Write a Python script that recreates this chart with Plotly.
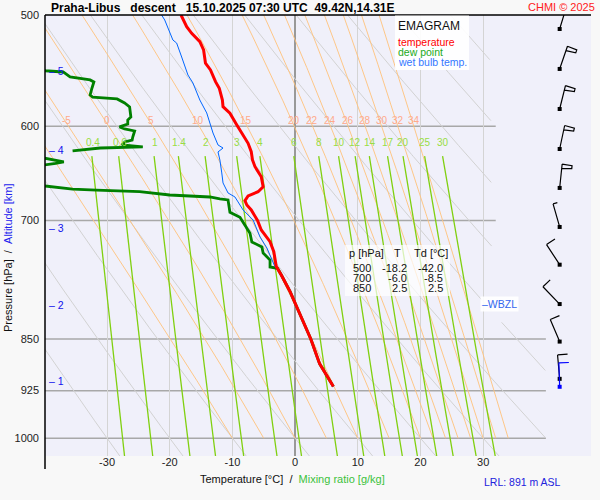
import numpy as np
import plotly.graph_objects as go

# --- descent profile ------------------------------------------------------
temp_p = [500, 509.7, 515.2, 522.3, 529.5, 541.1, 547.1, 557.7, 563.7, 574.7,
          581.0, 587.3, 598.7, 608.6, 616.9, 625.4, 634.0, 641.0, 651.6, 662.4,
          667.8, 672.5, 677.7, 682.5, 688.1, 700.0, 711.0, 724.7, 736.7, 755.0,
          765.4, 786.6, 801.7, 815.0, 837.4, 850.0, 885.0, 918.7]
temp_c = [-18.2, -17.3, -16.5, -15.2, -14.6, -14.3, -13.5, -12.7, -12.1, -11.6,
          -11.5, -10.4, -9.3, -8.3, -7.5, -7.0, -6.8, -6.4, -5.4, -5.1,
          -5.9, -7.5, -8.0, -7.7, -7.0, -6.0, -5.4, -4.0, -3.4, -3.0,
          -2.2, -0.8, 0.0, 0.7, 1.8, 2.5, 3.9, 6.1]

# dew point (None = below the left edge of the diagram)
dew_p = [500, 530, 540, 547.8, 548.9, 553.4, 556.1, 558.0, 563.5, 570.0,
         571.9, 573.7, 577.5, 581.3, 590.9, 593.8, 597.7, 600.6, 602.6, 604.6,
         610.6, 613.6, 615.6, 618.6, 620.6, 621.7, 624.7, None, 631.5, 635.9,
         637.6, 639.4, None, 661.6, 664.9, 666.0, 667.8, 671.4, 673.6, 675.8,
         676.9, 690.7, 696.4, 705.5, 714.9, 725.1, 731.1, 738.3, 746.8, 755.4,
         757.1, 765.4, 786.6, 801.7, 815.0, 837.4, 850.0, 885.0, 918.7]
dew_c = [-42.0, -41.5, -41.0, -39.9, -37.0, -35.9, -32.7, -32.1, -32.4, -32.7,
         -32.3, -28.4, -27.2, -26.4, -26.2, -26.7, -26.7, -28.0, -27.2, -25.6,
         -25.9, -26.0, -27.2, -27.6, -24.3, -31.1, -35.5, None, -40.5, -36.9,
         -38.2, -40.3, None, -39.9, -35.5, -31.7, -24.8, -20.0, -13.6, -12.0,
         -10.7, -10.4, -8.8, -8.0, -7.2, -6.9, -5.3, -5.1, -4.0, -4.0,
         -2.8, -2.2, -0.8, 0.0, 0.7, 1.8, 2.5, 3.9, 6.1]

wet_p = [500, 504.1, 520.9, 523.5, 535.6, 544.4, 551.6, 558.9, 568.1, 574.7,
         587.0, 596.7, 606.6, 618.6, 621.7, 625.7, 634.0, 647.6, 658.3, 669.2,
         673.6, 679.1, 688.1, 699.5, 719.2, 732.3, 746.8, 755.4, 757.1, 765.4,
         786.6, 801.7, 815.0, 837.4, 850.0, 885.0, 918.7]
wet_c = [-21.3, -20.8, -19.5, -18.9, -18.1, -17.6, -17.1, -16.3, -15.7, -15.2,
         -14.1, -13.6, -13.1, -12.3, -11.5, -12.3, -12.0, -11.7, -11.5, -10.7,
         -9.6, -9.1, -8.3, -6.7, -5.6, -4.5, -3.7, -3.2, -2.9, -2.2,
         -0.8, 0.0, 0.7, 1.8, 2.5, 3.9, 6.1]

table_p = [500, 700, 850]
table_t = [-18.2, -6.0, 2.5]
table_td = [-42.0, -8.5, 2.5]

# winds every 0.5 km (dir in deg, speed in kt), plus the lowest level
wind_p = [511.6, 546.2, 583.2, 622.7, 663.7, 707.5, 752.6, 802.7, 853.6, 907.3]
wind_dir = [17, 19, 14, 12, 6, 344, 327, 316, 337, 355]
wind_kt = [50, 50, 50, 50, 50, 5, 10, 10, 10, 10]
sfc_p = 919.2
sfc_dir = 358
sfc_kt = 10

alt_km = [1, 2, 3, 4, 5]
alt_p = [910.9, 804.0, 708.7, 623.7, 548.0]
wbzl_p = 802

# --- diagram background ----------------------------------------------------
dry_theta = [-30, -20, -10, 0, 10, 20, 30, 40, 50, 60, 70, 80, 90]   # degC at 1000 hPa
moist_theta = [-10, -5, 0, 5, 10, 15, 20, 22, 24, 26, 28, 30, 32, 34]
moist_labels = [-5, 0, 5, 10, 15, 20, 22, 24, 26, 28, 30, 32, 34]
mix_ratio = [0.4, 0.6, 1, 1.4, 2, 3, 4, 6, 8, 10, 12, 14, 17, 20, 25, 30]
mix_text = ['0.4', '0.6', '1', '1.4', '2', '3', '4', '6', '8', '10', '12', '14',
            '17', '20', '25', '30']

x_ticks = [-30, -20, -10, 0, 10, 20, 30]
p_ticks = [500, 600, 700, 850, 925, 1000]

FONT = 'Liberation Sans, Arial, sans-serif'


def esat(tc):
    return 6.112 * np.exp(17.67 * tc / (tc + 243.5))


def mixing_line(w, p):
    e = w * p / (622.0 + w)
    ln = np.log(e / 6.112)
    return 243.5 * ln / (17.67 - ln)


def moist_adiabat(t0, p):
    Rd, cp, Lv, eps = 287.04, 1005.7, 2.501e6, 0.622

    def f(pp, T):
        e = esat(T - 273.15)
        rs = eps * e / (pp - e)
        return (Rd * T + Lv * rs) / (cp + Lv * Lv * rs * eps / (Rd * T * T)) / pp

    T = t0 + 273.15
    out = [T]
    for i in range(len(p) - 1):
        h = p[i + 1] - p[i]
        k1 = f(p[i], T)
        k2 = f(p[i] + h / 2, T + h / 2 * k1)
        k3 = f(p[i] + h / 2, T + h / 2 * k2)
        k4 = f(p[i + 1], T + h * k3)
        T = T + h / 6 * (k1 + 2 * k2 + 2 * k3 + k4)
        out.append(T)
    return np.array(out) - 273.15


def clip_right(t, p):
    t = np.array(t, dtype=float)
    t[(p < 825) & (t > 31.4)] = np.nan
    t[t > 40] = np.nan
    return t


def xpaper(px):
    return (px - 45) / 546.0


def ypaper(py):
    return (456.0 - py) / 441.0


fig = go.Figure()

p_full = np.linspace(495, 1035, 240)
for th in dry_theta:
    t = (th + 273.15) * (p_full / 1000.0) ** 0.2857 - 273.15
    fig.add_trace(go.Scatter(x=clip_right(t, p_full), y=p_full, mode='lines',
                             line=dict(color='#d2d2d2', width=1), hoverinfo='skip'))

p_moist = np.linspace(1000, 495, 203)
moist_pos = {}
for th in moist_theta:
    t = moist_adiabat(th, p_moist)
    moist_pos[th] = np.interp(594, p_moist[::-1], t[::-1])
    fig.add_trace(go.Scatter(x=clip_right(t, p_moist), y=p_moist, mode='lines',
                             line=dict(color='#ffc27a', width=0.9), hoverinfo='skip'))

p_mix = np.linspace(630, 1035, 80)
for w in mix_ratio:
    fig.add_trace(go.Scatter(x=mixing_line(w, p_mix), y=p_mix, mode='lines',
                             line=dict(color='#80d010', width=1.3), hoverinfo='skip'))

# isobars
for p in p_ticks[1:]:
    fig.add_shape(type='line', xref='x', yref='y', x0=-39.9, x1=32 if p < 825 else 40,
                  y0=p, y1=p, line=dict(color='#a8a8a8', width=1.5), layer='below')

# sounding
fig.add_trace(go.Scatter(x=dew_c, y=dew_p, mode='lines', connectgaps=False,
                         line=dict(color='#008000', width=2.8), hoverinfo='skip'))
fig.add_trace(go.Scatter(x=wet_c, y=wet_p, mode='lines',
                         line=dict(color='#0066ff', width=1), hoverinfo='skip'))
fig.add_trace(go.Scatter(x=temp_c, y=temp_p, mode='lines',
                         line=dict(color='#ff0000', width=3), hoverinfo='skip'))

# wind barbs
barb_x = 42.2


def barb_path(direction, speed):
    a = np.deg2rad(direction)
    sx, sy = np.sin(a), np.cos(a)
    fx, fy = sy, -sx

    def pt(d, f):
        return d * sx + f * fx, d * sy + f * fy

    L = 24.0
    path = 'M0,0 L%.1f,%.1f' % pt(L, 0)
    pos = L
    n50, rest = divmod(int(speed), 50)
    n10, rest = divmod(rest, 10)
    n5 = rest // 5
    for _ in range(n50):
        path += ' M%.1f,%.1f L%.1f,%.1f L%.1f,%.1f L%.1f,%.1f' % (
            *pt(pos, 0), *pt(pos - 0.5, 10), *pt(pos - 3.5, 10), *pt(pos - 4.5, 0))
        pos -= 6
    for _ in range(n10):
        path += ' M%.1f,%.1f L%.1f,%.1f' % (*pt(pos, 0), *pt(pos, 10))
        pos -= 3.5
    for _ in range(n5):
        path += ' M%.1f,%.1f L%.1f,%.1f' % (*pt(pos, 0), *pt(pos, 4.5))
    return path


for p, d, s in zip(wind_p, wind_dir, wind_kt):
    fig.add_shape(type='path', path=barb_path(d, s), xref='x', yref='y',
                  xsizemode='pixel', ysizemode='pixel', xanchor=barb_x, yanchor=p,
                  line=dict(color='black', width=1.2))
fig.add_trace(go.Scatter(x=[barb_x] * len(wind_p), y=wind_p, mode='markers',
                         marker=dict(symbol='square', size=4, color='black'), hoverinfo='skip'))
fig.add_shape(type='path', path=barb_path(sfc_dir, sfc_kt), xref='x', yref='y',
              xsizemode='pixel', ysizemode='pixel', xanchor=barb_x, yanchor=sfc_p,
              line=dict(color='#0000ff', width=1.2))
fig.add_trace(go.Scatter(x=[barb_x], y=[sfc_p], mode='markers',
                         marker=dict(symbol='square', size=4, color='#0000ff'), hoverinfo='skip'))

# frame lines
fig.add_shape(type='line', xref='paper', yref='paper', x0=0, x1=1, y0=1, y1=1,
              line=dict(color='black', width=1.5))
fig.add_shape(type='line', xref='paper', yref='paper', x0=0, x1=0, y0=ypaper(469), y1=1,
              line=dict(color='black', width=1.5))

# white boxes
fig.add_shape(type='rect', xref='paper', yref='paper', x0=xpaper(395), x1=xpaper(469),
              y0=ypaper(70), y1=ypaper(15.5), fillcolor='rgba(255,255,255,0.9)',
              line=dict(width=0), layer='above')
fig.add_shape(type='rect', xref='paper', yref='paper', x0=xpaper(345), x1=xpaper(450),
              y0=ypaper(296), y1=ypaper(245), fillcolor='rgba(255,255,255,0.7)',
              line=dict(width=0), layer='above')

ann = []


def text(px, py, s, size=12, color='#111', anchor='left', bold=False, **kw):
    ann.append(dict(x=xpaper(px), y=ypaper(py), xref='paper', yref='paper', text=s,
                    showarrow=False, xanchor=anchor, yanchor='middle', borderpad=0,
                    font=dict(family=FONT, size=size, color=color,
                              weight='bold' if bold else 'normal'), **kw))


nb = '\u00a0'
text(50, 7.5, 'Praha-Libus' + nb * 3 + 'descent' + nb * 3 + '15.10.2025 07:30 UTC' + nb * 2 +
     '49.42N,14.31E', size=12, color='black', bold=True)
text(596, 7, 'CHMI © 2025', size=11, color='#ff2020', anchor='right')

text(397, 26, 'EMAGRAM', size=12, color='#111')
text(397, 42, 'temperature', size=10.5, color='#ff0000')
text(397, 52, 'dew point', size=10.5, color='#22aa22')
text(397, 62, 'wet bulb temp.', size=10.5, color='#3377ff')

text(348, 253, 'p [hPa]', size=11)
text(397, 253, 'T', size=11, anchor='center')
text(413, 253, 'Td [°C]', size=11)
for i, p in enumerate(table_p):
    row_y = 268 + 10 * i
    text(372, row_y, str(p), size=11, anchor='right')
    text(408, row_y, '%.1f' % table_t[i], size=11, anchor='right')
    text(444, row_y, '%.1f' % table_td[i], size=11, anchor='right')

text(292, 479, 'Temperature [°C]' + nb * 2 + '/' + nb * 2 +
     "<span style='color:#3cc23c'>Mixing ratio [g/kg]</span>", size=11, anchor='center')
text(483, 482, 'LRL: 891 m ASL', size=10.5, color='#2222dd')
text(8, 258, 'Pressure [hPa]' + nb * 2 + '/' + nb * 2 +
     "<span style='color:#2222ee'>Altitude [km]</span>", size=11, anchor='center',
     textangle=-90)

# adiabat and mixing ratio labels
for th in moist_labels:
    ann.append(dict(x=moist_pos[th] + 0.3, y=np.log10(594), xref='x', yref='y', text=str(th),
                    showarrow=False, font=dict(family=FONT, size=10, color='#ffaa8a')))
for w, s in zip(mix_ratio, mix_text):
    ann.append(dict(x=float(mixing_line(w, 615.6)) + 0.4, y=np.log10(615.6), xref='x', yref='y',
                    text=s, showarrow=False, font=dict(family=FONT, size=10, color='#99dd44')))

for km, p in zip(alt_km, alt_p):
    ann.append(dict(x=xpaper(47), y=np.log10(p), xref='paper', yref='y', text='– %d' % km,
                    showarrow=False, xanchor='left',
                    font=dict(family=FONT, size=10.5, color='#1010ee')))

ann.append(dict(x=xpaper(480), y=np.log10(wbzl_p), xref='paper', yref='y', text='–WBZL',
                showarrow=False, xanchor='left', bgcolor='rgba(255,255,255,0.9)', borderpad=1,
                font=dict(family=FONT, size=10.5, color='#3366ee')))

fig.update_layout(
    width=600, height=500, autosize=False,
    margin=dict(l=45, r=9, t=15, b=44),
    paper_bgcolor='#f8f8f8', plot_bgcolor='#f0f0fa',
    showlegend=False,
    font=dict(family=FONT, size=11, color='#111'),
    annotations=ann,
    xaxis=dict(range=[-39.9, 47.2], tickvals=x_ticks, ticktext=[str(v) for v in x_ticks],
               showgrid=True, gridcolor='#d4d4d4', gridwidth=1,
               zeroline=True, zerolinecolor='#999999', zerolinewidth=1.5,
               showline=False, ticks='', ticklabelstandoff=-2,
               tickfont=dict(size=11, color='#222')),
    yaxis=dict(type='log', range=[np.log10(1029.5), np.log10(500)], tickvals=p_ticks,
               ticktext=[str(v) for v in p_ticks], showgrid=False, zeroline=False,
               showline=False, ticks='', ticklabelstandoff=5,
               tickfont=dict(size=11, color='#222')),
)

fig.write_html('out.html', config={'displayModeBar': False},
               post_script="document.body.style.margin='0';")
